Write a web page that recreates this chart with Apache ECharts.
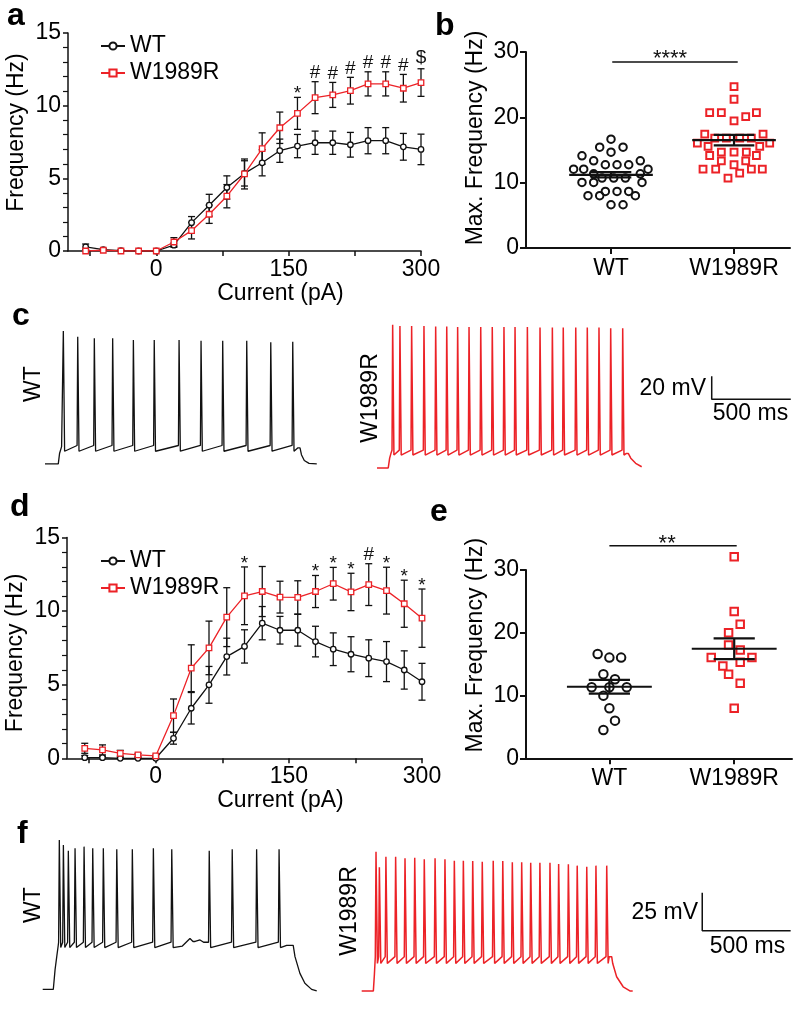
<!DOCTYPE html>
<html>
<head>
<meta charset="utf-8">
<script src="https://cdn.jsdelivr.net/npm/echarts@6/dist/echarts.min.js"></script>
<style>
html,body{margin:0;padding:0;background:#fff;}
#chart{width:800px;height:1009px;}
</style>
</head>
<body>
<div id="chart"></div>
<script>
// ================= DATA =================
// Panels a and d: frequency vs injected current
const currents = [-80,-60,-40,-20,0,20,40,60,80,100,120,140,160,180,200,220,240,260,280,300];
const aWTMean  = [0.28,0.10,0.03,0,0,0.40,1.95,3.15,4.37,5.34,6.07,6.90,7.22,7.45,7.45,7.31,7.59,7.59,7.17,6.99];
const aWTSem   = [0.20,0.05,0.03,0.02,0.02,0.15,0.42,0.75,0.80,0.87,0.90,0.80,0.80,0.80,0.80,0.85,0.90,0.90,0.92,1.05];
const aMutMean = [0.00,0.05,0,0,0,0.62,1.40,2.53,3.77,5.30,7.05,8.48,9.47,10.55,10.74,11.03,11.50,11.50,11.20,11.59];
const aMutSem  = [0.10,0.05,0.03,0.02,0.02,0.30,0.57,0.63,0.80,1.03,1.08,1.08,1.10,1.10,0.86,0.92,0.83,0.83,0.95,0.95];
const aSigCurrents = [160,180,200,220,240,260,280,300];
const aSigMarks    = ['*','#','#','#','#','#','#','$'];

const dWTMean  = [0.04,0.04,0,0,0,1.36,3.40,4.99,6.91,7.60,9.18,8.70,8.70,7.93,7.41,7.07,6.80,6.57,6.00,5.20];
const dWTSem   = [0.15,0.10,0.05,0.05,0.02,0.40,1.07,1.25,1.25,1.13,1.13,0.94,1.08,1.04,1.11,1.19,1.25,1.36,1.30,1.25];
const dMutMean = [0.68,0.57,0.34,0.23,0.16,2.90,6.12,7.50,9.59,11.04,11.33,10.95,10.93,11.33,11.86,11.30,11.80,11.39,10.50,9.52];
const dMutSem  = [0.34,0.34,0.20,0.10,0.05,1.13,1.59,1.82,2.00,1.96,1.70,1.08,1.13,1.09,1.11,1.27,1.42,1.59,1.60,1.98];
const dSigCurrents = [100,180,200,220,240,260,280,300];
const dSigMarks    = ['*','*','*','*','#','*','*','*'];

const xTickValues  = [-75,0,75,150,225,300];
const xLabelValues = [0,150,300];

// Panels b and e: max frequency per cell (value, horizontal jitter in group units)
const groups = ['WT','W1989R'];
const bWTVals = [16.66,15.44,15.44,14.67,14.11,13.35,13.35,12.74,12.74,12.74,12.07,12.07,12.07,11.36,11.36,10.70,10.70,10.70,10.04,10.04,10.04,8.66,8.66,8.66,8.0,8.0,8.0,6.62,6.62];
const bWTJit  = [0,-0.092,0.098,0,-0.236,-0.141,0.238,-0.046,0.049,0.144,-0.304,-0.222,0.301,-0.141,0.238,-0.073,0.022,0.117,-0.236,-0.141,0.252,-0.046,0.049,0.144,-0.187,-0.092,0.198,0,0.098];
const bMutVals = [24.71,22.77,20.73,20.73,20.73,20.12,19.46,17.42,17.42,16.81,16.81,16.81,16.81,16.05,16.05,15.54,15.54,14.67,14.67,14.67,14.16,14.16,13.35,13.35,12.74,12.07,12.07,12.07,12.07,11.46,10.70];
const bMutJit  = [0,0,-0.198,-0.103,0.182,0.095,0,-0.238,0.236,-0.157,-0.062,0.046,0.141,-0.298,0.29,-0.211,0.209,0,-0.103,0.1,-0.198,0.182,-0.103,0.095,0,-0.252,-0.149,0.141,0.23,0.046,-0.049];
const bMean = [11.2,16.5];
const bSem  = [0.4,0.8];

const eWTVals = [16.62,16.04,16.04,13.38,12.59,11.31,11.31,11.31,9.98,7.97,6.0,4.51];
const eWTJit  = [-0.094,0,0.094,-0.048,0.045,-0.142,0,0.139,-0.048,0,0.045,-0.048];
const eMutVals = [32.13,23.37,21.35,20.02,18.06,17.26,16.04,16.04,15.29,14.71,13.38,11.95,7.97];
const eMutJit  = [0,0,0.048,-0.045,-0.045,0.048,-0.184,0.142,0.048,-0.091,-0.045,0.048,0];
const eMean = [11.4,17.45];
const eSem  = [1.1,1.65];

// Panels c and f: membrane potential traces (ms from trace start, mV)
const cWTSpikeT = [116,207,312,428,559,691,848,987,1124,1276,1428,1567];
const cWTSpikeV = [44.6,39.6,38.2,38.2,36.7,36.7,36.7,36.1,36.1,36.1,34.7,35.3];
const cWTFrame  = [[0,-71],[84,-71],[92,-62],[105,-56],[1600,-57],[1613,-57],[1622,-63],[1640,-68],[1670,-70.5],[1719,-71]];
const cWTLevels = [-55,-60];   // pre-spike, after-hyperpolarisation
const cMutSpikeT = [99,145,219,297,371,441,510,582,656,729,803,873,951,1031,1109,1178,1257,1330,1404,1478,1554];
const cMutSpikeV = [50,49,49,49,48.5,48.5,48,48,48,48,48,48,48,47.5,47.5,47.5,47.5,47.5,47.5,47,47];
const cMutFrame  = [[0,-74.5],[71,-74.5],[80,-66],[90,-61],[1575,-62],[1590,-62],[1605,-66],[1636,-70.5],[1674,-73.5]];
const cMutLevels = [-59,-63.3];

const fWTSpikeT = [94,117,145,183,234,283,343,419,507,626,730,942,1072,1210,1337];
const fWTSpikeV = [15.3,12.0,8.2,9.8,10.9,9.8,9.8,9.1,9.1,9.8,9.1,8.2,9.1,9.1,9.1];
const fWTFrame  = [[0,-83],[60,-83],[70,-70],[80,-61],[88,-54],[790,-54.5],[833,-49.5],[850,-51.5],[862,-51.5],[890,-50.5],[910,-52],[1380,-54],[1417,-54],[1427,-61.5],[1455,-72.5],[1483,-79],[1521,-83],[1550,-84]];
const fWTLevels = [-52,-55.5];
const fMutSpikeT = [81,100,137,192,245,300,354,415,471,524,575,628,682,744,798,852,905,956,1008,1065,1114,1169,1219,1273,1325,1386];
const fMutSpikeV = [7.6,-2.7,4.3,4.3,3.2,3.6,2.6,3.2,2.6,1.6,1.6,1.4,1.0,1.6,1.4,0.6,0.6,0.3,0.3,0.3,-0.5,-0.7,-1.6,-2.3,-1.6,-1.6];
const fMutFrame  = [[0,-84],[66,-84],[72,-73],[1400,-61.5],[1414,-61.5],[1420,-66],[1442,-74.7],[1479,-81.3],[1517,-84],[1533,-84]];
const fMutLevels = [-61.5,-65.9];

const cScaleBar = [500, 20]; // ms, mV
const fScaleBar = [500, 25];

// ================= LAYOUT / STYLE =================
const FONT = 'Liberation Sans';
const BLACK = '#111111';
const RED = '#ec2227';
const FS = 23;

// trace start offsets (ms) and scale bar corners inside trace grids
const cWTStart = 284.6, cMutStart = 2384.6, cBarCorner = [4501.6, -14.8];
const fWTStart = 241.5, fMutStart = 2045.8, fBarCorner = [3972, -44.4];

function buildTrace(frame, spikeT, spikeV, levels, start) {
  const pts = frame.map(p => [p[0], p[1]]);
  spikeT.forEach((t, i) => {
    pts.push([t - 4, levels[0]], [t, spikeV[i]], [t + 8, levels[1]]);
  });
  pts.sort((p, q) => p[0] - q[0]);
  return pts.map(p => [p[0] + start, p[1]]);
}

function errSeries(xi, means, sems, z) {
  return {
    type: 'custom', xAxisIndex: xi, yAxisIndex: xi, z: z, silent: true,
    data: currents.map((c, i) => [c, means[i], sems[i]]),
    encode: {x: 0, y: 1},
    renderItem: function (params, api) {
      const x = api.value(0), m = api.value(1), s = api.value(2);
      const top = api.coord([x, m + s]), bot = api.coord([x, Math.max(m - s, 0)]);
      const cw = 3.5;
      const st = {stroke: BLACK, lineWidth: 1.3};
      const ch = [{type: 'line', shape: {x1: top[0], y1: top[1], x2: bot[0], y2: bot[1]}, style: st},
                  {type: 'line', shape: {x1: top[0] - cw, y1: top[1], x2: top[0] + cw, y2: top[1]}, style: st}];
      if (m - s > 0) ch.push({type: 'line', shape: {x1: bot[0] - cw, y1: bot[1], x2: bot[0] + cw, y2: bot[1]}, style: st});
      return {type: 'group', children: ch};
    }
  };
}

function sigSeries(xi, sigCurrents, marks, means, sems) {
  return {
    type: 'custom', xAxisIndex: xi, yAxisIndex: xi, z: 6, silent: true, clip: false,
    data: sigCurrents.map(c => { const i = currents.indexOf(c); return [c, means[i] + sems[i]]; }),
    encode: {x: 0, y: 1},
    renderItem: function (params, api) {
      const p = api.coord([api.value(0), api.value(1)]);
      const mk = marks[params.dataIndex];
      const off = mk === '*' ? 3.5 : (mk === '#' ? 9 : 10.5);
      return {type: 'text', x: p[0], y: p[1] - off,
        style: {text: mk, fontSize: 19, fontFamily: FONT, fill: BLACK, align: 'center', verticalAlign: 'middle'}};
    }
  };
}

function lineSeries(name, xi, means, color, symbol, size) {
  return {
    name: name, type: 'line', xAxisIndex: xi, yAxisIndex: xi, z: 4,
    data: currents.map((c, i) => [c, means[i]]),
    symbol: symbol, symbolSize: size, showSymbol: true,
    lineStyle: {color: color, width: 1.3},
    itemStyle: {color: '#ffffff', borderColor: color, borderWidth: 1.3, opacity: 1},
    emphasis: {disabled: true}
  };
}

function dotSeries(xi, grp, vals, jit, symbol, size, color) {
  return {
    type: 'scatter', xAxisIndex: xi, yAxisIndex: xi, z: 3, clip: false, silent: true,
    data: vals.map((v, i) => [grp + jit[i], v]),
    symbol: symbol, symbolSize: size,
    itemStyle: {color: 'rgba(255,255,255,0)', borderColor: color, borderWidth: 2, opacity: 1},
    emphasis: {disabled: true}
  };
}

function meanSeries(xi, means, sems) {
  return {
    type: 'custom', xAxisIndex: xi, yAxisIndex: xi, z: 5, silent: true,
    data: means.map((m, i) => [i + 1, m, sems[i]]),
    encode: {x: 0, y: 1},
    renderItem: function (params, api) {
      const x = api.value(0), m = api.value(1), s = api.value(2);
      const st = {stroke: BLACK, lineWidth: 2.2};
      const L = api.coord([x - 0.34, m]), R = api.coord([x + 0.34, m]);
      const T = api.coord([x, m + s]), B = api.coord([x, m - s]);
      const TL = api.coord([x - 0.165, m + s]), TR = api.coord([x + 0.165, m + s]);
      const BL = api.coord([x - 0.165, m - s]), BR = api.coord([x + 0.165, m - s]);
      return {type: 'group', children: [
        {type: 'line', shape: {x1: L[0], y1: L[1], x2: R[0], y2: R[1]}, style: st},
        {type: 'line', shape: {x1: T[0], y1: T[1], x2: B[0], y2: B[1]}, style: st},
        {type: 'line', shape: {x1: TL[0], y1: TL[1], x2: TR[0], y2: TR[1]}, style: st},
        {type: 'line', shape: {x1: BL[0], y1: BL[1], x2: BR[0], y2: BR[1]}, style: st}
      ]};
    }
  };
}

function textSeries(xi, pos, text, size) {
  return {
    type: 'custom', xAxisIndex: xi, yAxisIndex: xi, z: 6, silent: true, clip: false,
    data: [pos], encode: {x: 0, y: 1},
    renderItem: function (params, api) {
      const p = api.coord([api.value(0), api.value(1)]);
      return {type: 'text', x: p[0], y: p[1],
        style: {text: text, fontSize: size, fontFamily: FONT, fill: BLACK, align: 'center', verticalAlign: 'middle'}};
    }
  };
}

function simpleLine(xi, data, color, width, z) {
  return {type: 'line', xAxisIndex: xi, yAxisIndex: xi, data: data, showSymbol: false, symbol: 'none',
    clip: false, silent: true, z: z || 2, sampling: null,
    lineStyle: {color: color, width: width}, emphasis: {disabled: true}};
}

const axisLineStyle = w => ({color: BLACK, width: w});
const labelStyle = m => ({fontSize: FS, color: '#000', fontFamily: FONT, margin: m});

function curveX(gi) {
  return {gridIndex: gi, type: 'value', min: -100, max: 300,
    axisLine: {show: true, onZero: false, lineStyle: axisLineStyle(1.5)},
    axisTick: {show: true, customValues: xTickValues, length: 5, lineStyle: axisLineStyle(1.5)},
    axisLabel: Object.assign({customValues: xLabelValues}, labelStyle(7)),
    splitLine: {show: false},
    name: 'Current (pA)', nameLocation: 'middle', nameGap: 27,
    nameTextStyle: {fontSize: FS, color: '#000', fontFamily: FONT, padding: [0, 0, 0, 72]}};
}
function curveY(gi, pad) {
  return {gridIndex: gi, type: 'value', min: 0, max: 15, interval: 5,
    axisLine: {show: true, onZero: false, lineStyle: axisLineStyle(1.5)},
    axisTick: {show: true, length: 5, lineStyle: axisLineStyle(1.5)},
    minorTick: {show: true, splitNumber: 5, length: 5, lineStyle: axisLineStyle(1.2)},
    axisLabel: labelStyle(7), splitLine: {show: false}, minorSplitLine: {show: false},
    name: 'Frequency (Hz)', nameLocation: 'middle', nameGap: 39.5,
    nameTextStyle: {fontSize: FS, color: '#000', fontFamily: FONT, padding: pad}};
}
function dotX(gi, min, max) {
  return {gridIndex: gi, type: 'value', min: min, max: max,
    axisLine: {show: true, onZero: false, lineStyle: axisLineStyle(2)},
    axisTick: {show: true, customValues: [1, 2], length: 6, lineStyle: axisLineStyle(2)},
    axisLabel: Object.assign({customValues: [1, 2], formatter: v => groups[Math.round(v) - 1]}, labelStyle(9)),
    splitLine: {show: false}};
}
function dotY(gi, pad) {
  return {gridIndex: gi, type: 'value', min: 0, max: 30, interval: 10,
    axisLine: {show: true, onZero: false, lineStyle: axisLineStyle(2)},
    axisTick: {show: true, length: 6, lineStyle: axisLineStyle(2)},
    axisLabel: labelStyle(7), splitLine: {show: false},
    name: 'Max. Frequency (Hz)', nameLocation: 'middle', nameGap: 38.5,
    nameTextStyle: {fontSize: FS, color: '#000', fontFamily: FONT, padding: pad}};
}
function traceAxis(gi, min, max) {
  return {gridIndex: gi, type: 'value', min: min, max: max, show: false, splitLine: {show: false}};
}

const legendCommon = {
  orient: 'vertical', itemGap: 4, itemWidth: 24, itemHeight: 9,
  textStyle: {fontSize: FS, color: '#000', fontFamily: FONT, lineHeight: 23},
  data: ['WT', 'W1989R'], selectedMode: false
};

function txt(text, x, y, opt) {
  return Object.assign({type: 'text', x: x, y: y, silent: true,
    style: Object.assign({text: text, fontSize: FS, fontFamily: FONT, fill: '#000', align: 'center', verticalAlign: 'middle'}, opt && opt.style || {})},
    opt && opt.rotation ? {rotation: opt.rotation} : {});
}
const bold = {style: {fontSize: 32, fontWeight: 'bold', align: 'left'}};
const rot = {rotation: Math.PI / 2};

const option = {
  animation: false,
  backgroundColor: '#ffffff',
  textStyle: {fontFamily: FONT},
  grid: [
    {left: 68, top: 33, width: 353, height: 218, outerBoundsMode: 'none'},
    {left: 526, top: 52, width: 264, height: 196, outerBoundsMode: 'none'},
    {left: 0, top: 300, width: 800, height: 180, outerBoundsMode: 'none'},
    {left: 67, top: 537.5, width: 355, height: 220.8, outerBoundsMode: 'none'},
    {left: 526, top: 570, width: 266, height: 188.3, outerBoundsMode: 'none'},
    {left: 0, top: 820, width: 800, height: 180, outerBoundsMode: 'none'}
  ],
  xAxis: [curveX(0), dotX(1, 0.309, 2.455), traceAxis(2, 0, 5060), curveX(3), dotX(4, 0.332, 2.463), traceAxis(5, 0, 4525)],
  yAxis: [curveY(0, [0, 0, 0, 19]), dotY(1, [0, 0, 0, 24]), traceAxis(2, -85, 71.52), curveY(3, [0, 10, 0, 0]), dotY(4, [0, 0, 0, 38]), traceAxis(5, -90, 28.42)],
  legend: [
    Object.assign({left: 95, top: 29.5}, legendCommon),
    Object.assign({left: 95, top: 544.5}, legendCommon)
  ],
  series: [
    // panel a
    errSeries(0, aWTMean, aWTSem, 2),
    errSeries(0, aMutMean, aMutSem, 2),
    lineSeries('WT', 0, aWTMean, BLACK, 'circle', 5.5),
    lineSeries('W1989R', 0, aMutMean, RED, 'rect', 5.5),
    sigSeries(0, aSigCurrents, aSigMarks, aMutMean, aMutSem),
    // panel b
    dotSeries(1, 1, bWTVals, bWTJit, 'circle', 7.5, BLACK),
    dotSeries(1, 2, bMutVals, bMutJit, 'rect', 6.8, RED),
    meanSeries(1, bMean, bSem),
    simpleLine(1, [[1.01, 28.47], [2.03, 28.47]], BLACK, 1.5),
    textSeries(1, [1.48, 29.0], '****', 22),
    // panel c
    simpleLine(2, buildTrace(cWTFrame, cWTSpikeT, cWTSpikeV, cWTLevels, cWTStart), BLACK, 1.3),
    simpleLine(2, buildTrace(cMutFrame, cMutSpikeT, cMutSpikeV, cMutLevels, cMutStart), RED, 1.5),
    simpleLine(2, [[cBarCorner[0], cBarCorner[1] + cScaleBar[1]], cBarCorner, [cBarCorner[0] + cScaleBar[0], cBarCorner[1]]], BLACK, 1.5),
    // panel d
    errSeries(3, dWTMean, dWTSem, 2),
    errSeries(3, dMutMean, dMutSem, 2),
    lineSeries('WT', 3, dWTMean, BLACK, 'circle', 5.5),
    lineSeries('W1989R', 3, dMutMean, RED, 'rect', 5.5),
    sigSeries(3, dSigCurrents, dSigMarks, dMutMean, dMutSem),
    // panel e
    dotSeries(4, 1, eWTVals, eWTJit, 'circle', 8.5, BLACK),
    dotSeries(4, 2, eMutVals, eMutJit, 'rect', 7.5, RED),
    meanSeries(4, eMean, eSem),
    simpleLine(4, [[1.0, 33.86], [2.02, 33.86]], BLACK, 1.5),
    textSeries(4, [1.463, 34.2], '**', 22),
    // panel f
    simpleLine(5, buildTrace(fWTFrame, fWTSpikeT, fWTSpikeV, fWTLevels, fWTStart), BLACK, 1.3),
    simpleLine(5, buildTrace(fMutFrame, fMutSpikeT, fMutSpikeV, fMutLevels, fMutStart), RED, 1.5),
    simpleLine(5, [[fBarCorner[0], fBarCorner[1] + fScaleBar[1]], fBarCorner, [fBarCorner[0] + fScaleBar[0], fBarCorner[1]]], BLACK, 1.5)
  ],
  graphic: [
    txt('a', 7, 16.6, bold), txt('b', 435, 25.8, bold), txt('c', 12, 315.8, bold),
    txt('d', 10, 506.8, bold), txt('e', 430, 511.8, bold), txt('f', 17, 833.8, bold),
    txt('WT', 33.5, 384, rot), txt('W1989R', 371, 398, rot),
    txt('WT', 34, 905, rot), txt('W1989R', 350, 911, rot),
    txt(cScaleBar[1] + ' mV', 706, 389, {style: {align: 'right'}}),
    txt(cScaleBar[0] + ' ms', 750.5, 413.5),
    txt(fScaleBar[1] + ' mV', 698, 912.5, {style: {align: 'right'}}),
    txt(fScaleBar[0] + ' ms', 747.5, 946.5)
  ]
};

const chart = echarts.init(document.getElementById('chart'), null, {renderer: 'canvas'});
chart.setOption(option);
</script>
</body>
</html>
